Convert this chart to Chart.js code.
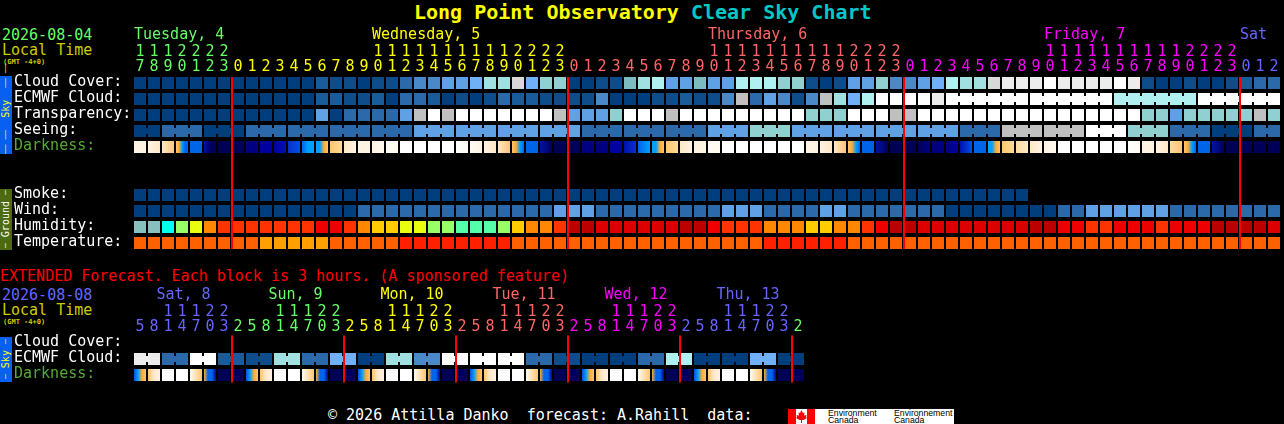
<!DOCTYPE html>
<html>
<head>
<meta charset="utf-8">
<title>Long Point Observatory Clear Sky Chart</title>
<script src="https://cdn.jsdelivr.net/npm/chart.js@4/dist/chart.umd.min.js"></script>
<style>
  html, body { margin: 0; background: #000; }
  body { position: relative; width: 1284px; height: 424px; overflow: hidden; font-family: "DejaVu Sans Mono", monospace; }
  .box { position: absolute; left: 0; width: 1284px; }
  .t { position: absolute; white-space: pre; font-size: 15px; line-height: 16px; }
  .tab { position: absolute; left: 0; width: 12px; text-align: center; white-space: pre; font-size: 10px; line-height: 12px;
         writing-mode: vertical-rl; transform: rotate(180deg); }
  .tab span { font-size: 8px; }
  canvas { display: block; }
</style>
</head>
<body>

<div class="t" style="left:414px;top:0;font-size:20px;line-height:24px;font-weight:bold;color:#ffff00">Long Point Observatory <span style="color:#00c8c8">Clear Sky Chart</span></div>

<div class="t" style="left:2px;top:27px;color:#66ff66">2026-08-04</div>
<div class="t" style="left:2px;top:42px;color:#cccc00">Local Time</div>
<div class="t" style="left:3px;top:58px;font-size:7px;line-height:9px;font-weight:bold;color:#cccc00">(GMT -4+0)</div>
<div class="tab" style="top:76px;height:78px;background:#0860f0;color:#ffff00"><span>—— ——</span>  Sky  <span>—— ——</span></div>
<div class="tab" style="top:189px;height:61px;background:#4d6a10;color:#ffffff"><span>—</span> Ground <span>—</span></div>

<div class="t" style="left:0;top:268px;color:#ff0000">EXTENDED Forecast. Each block is 3 hours. (A sponsored feature)</div>
<div class="t" style="left:2px;top:287px;color:#6666ff">2026-08-08</div>
<div class="t" style="left:2px;top:302px;color:#cccc00">Local Time</div>
<div class="t" style="left:3px;top:318px;font-size:7px;line-height:9px;font-weight:bold;color:#cccc00">(GMT -4+0)</div>
<div class="tab" style="top:337px;height:45px;background:#0860f0;color:#ffff00"><span>—</span> Sky <span>—</span></div>

<div class="t" style="left:328px;top:407px;color:#ffffff">© 2026 Attilla Danko  forecast: A.Rahill  data:</div>
<div style="position:absolute;left:788px;top:409px;width:166px;height:15px;background:#fff;overflow:hidden">
  <div style="position:absolute;left:0;top:0;width:8px;height:15px;background:#f00"></div>
  <div style="position:absolute;left:19px;top:0;width:8px;height:15px;background:#f00"></div>
  <svg style="position:absolute;left:8px;top:1px" width="11" height="13" viewBox="0 0 11 13"><path fill="#f00" d="M5.5 0 L7 3 L8.5 2.5 L8 5.5 L10.5 5 L10 7 L11 8 L7.5 10 L6 10 L6 13 L5 13 L5 10 L3.5 10 L0 8 L1 7 L.5 5 L3 5.5 L2.5 2.5 L4 3 Z"/></svg>
  <div style="position:absolute;left:40px;top:0;font:8.7px/8px 'Liberation Sans';color:#000">Environment</div>
  <div style="position:absolute;left:40px;top:7px;font:8.7px/8px 'Liberation Sans';color:#000">Canada</div>
  <div style="position:absolute;left:106px;top:0;font:8.7px/8px 'Liberation Sans';color:#000">Environnement</div>
  <div style="position:absolute;left:106px;top:7px;font:8.7px/8px 'Liberation Sans';color:#000">Canada</div>
</div>

<div class="box" style="top:0;height:252px"><canvas id="mainChart" width="1284" height="252"></canvas></div>
<div class="box" style="top:280px;height:105px"><canvas id="extChart" width="1284" height="105"></canvas></div>

<script>
// hours along the top of each panel
const mainHours = [17,18,19,20,21,22,23,
    0,1,2,3,4,5,6,7,8,9,10,11,12,13,14,15,16,17,18,19,20,21,22,23,
    0,1,2,3,4,5,6,7,8,9,10,11,12,13,14,15,16,17,18,19,20,21,22,23,
    0,1,2,3,4,5,6,7,8,9,10,11,12,13,14,15,16,17,18,19,20,21,22,23,
    0,1,2];
const extHours = [5,8,11,14,17,20,23,
    2,5,8,11,14,17,20,23,
    2,5,8,11,14,17,20,23,
    2,5,8,11,14,17,20,23,
    2,5,8,11,14,17,20,23,
    2,5,8,11,14,17,20,23,
    2];

const mainDayNames = ["Tuesday, 4", "Wednesday, 5", "Thursday, 6", "Friday, 7", "Sat"];
const mainDayNameCells = [0, 17, 41, 65, 79];
const mainDayStarts = [0, 7, 31, 55, 79];
const extDayNames = ["Sat, 8", "Sun, 9", "Mon, 10", "Tue, 11", "Wed, 12", "Thu, 13"];
const extDayNameCells = [1.6, 9.6, 17.6, 25.6, 33.6, 41.6];
const extDayStarts = [0, 7, 15, 23, 31, 39, 47];

const mainRowLabels = ["Cloud Cover:", "ECMWF Cloud:", "Transparency:", "Seeing:", "Darkness:", " ", "  ", "Smoke:", "Wind:", "Humidity:", "Temperature:"];
const extRowLabels = ["Cloud Cover:", "ECMWF Cloud:", "Darkness:"];

// sky condition class, 0 = best (dark blue) to 14 = worst (white)
const cloudCover = [0,0,0,0,0,0,0,0,0,0,0,0,0,2,1,1,0,1,1,3,4,
    4,5,5,6,9,9,12,6,8,8,0,0,1,1,7,9,10,5,5,7,5,5,10,10,10,8,8,1,0,1,
    5,5,8,4,4,5,6,10,9,9,12,13,13,13,14,13,13,13,13,14,13,1,0,0,1,0,0,1,2,3,3];
const ecmwfCloud = [0,0,0,0,0,0,0,0,0,0,0,0,0,2,2,1,1,2,0,3,3,
    2,0,1,0,1,3,2,2,1,1,1,1,4,0,0,0,1,1,2,1,1,4,11,3,5,4,1,4,11,9,
    6,10,14,14,14,14,13,14,14,14,14,14,14,14,14,14,14,14,14,10,10,10,10,10,10,14,14,14,14,14,14];
const transparency = [0,0,0,0,0,0,0,0,0,0,0,0,0,5,0,3,3,3,3,5,11,
    14,11,14,14,14,14,14,14,14,11,5,5,5,8,14,14,14,11,14,14,14,14,14,14,14,14,14,8,8,8,
    14,14,14,11,11,14,14,14,14,14,14,14,14,14,14,14,14,14,14,14,14,8,8,5,8,8,8,8,8,11,8];
const seeing = [0,0,3,3,3,0,0,0,3,3,3,3,3,3,3,3,3,3,3,3,5,
    5,5,5,5,5,5,5,5,5,5,5,3,3,3,3,3,3,3,3,3,5,5,5,8,8,8,5,5,5,5,
    5,5,5,5,5,5,5,5,3,3,3,11,11,11,11,11,11,14,14,14,8,8,8,3,3,3,0,0,0,3,3];
const smoke = [0,0,0,0,0,0,0,0,0,0,0,0,0,0,0,0,0,0,0,0,0,
    0,0,0,0,0,0,0,0,0,0,0,0,0,0,0,0,0,0,0,0,0,0,0,0,0,0,0,0,0,0,
    0,0,0,0,0,0,0,0,0,0,0,0,0];
const wind = [0,0,0,0,0,0,0,0,0,0,0,0,0,0,0,0,3,3,3,3,3,
    3,3,3,3,3,3,3,3,3,5,5,5,3,3,3,3,3,3,3,3,3,5,5,5,3,3,3,3,5,5,
    3,3,3,3,3,3,3,0,0,0,0,0,0,0,0,3,3,5,5,5,5,5,5,3,3,3,3,3,3,3,3];
// relative humidity, percent
const humidity = [30,30,35,45,50,60,65,65,65,65,65,65,65,70,70,65,60,55,55,50,50,
    45,45,40,40,40,45,55,60,60,65,80,80,75,75,75,75,75,75,80,80,70,65,65,65,60,60,60,55,55,60,
    60,65,70,80,80,75,75,75,75,75,75,75,75,80,80,70,70,65,65,70,70,70,65,70,70,70,80,80,80,80,75];
// air temperature, deg C
const temperature = [21,21,21,21,21,21,21,21,21,18,18,18,18,18,21,21,21,21,21,24,24,
    24,24,24,24,24,24,21,21,21,21,21,21,21,21,21,21,21,21,21,21,21,21,21,21,24,24,24,24,24,24,
    21,21,21,21,21,21,21,21,21,21,21,21,21,21,21,21,21,21,21,21,21,21,21,21,21,21,21,21,21,21,21];
// darkness class samples across each hour, 0 = daylight to 14 = full dark
const darkness = [[2,2],[2,3],[3,4,5],[5,6,7,8,8],[8,8],[11,13,14,14],[14,14],
    [14,14],[13,13],[12,12],[12,11],[10,9],[8,7,7],[7,7,6,5],[5,4],[3,2],[2,2],[2,1],[1,1],[0,0],[0,0],
    [0,0],[0,0],[0,1],[1,2],[2,3],[3,5],[5,6,7,8],[8,8],[11,14],[14,14],[14,14],[13,13],[13,13],[12,12],[11,10],[8,7],[7,7,6,5],[5,4],[3,2],[2,2],[1,1],
    [0,0],[0,0],[0,0],[0,0],[0,0],[0,0],[2,2],[2,3],[3,5],[5,6,7,8],[8,8],[11,14],[14,14],[14,14],[14,13],[13,13],[13,12],[11,9],[8,8],[7,7,6,5],
    [5,4],[4,3],[3,2],[2,1],[0,0],[0,0],[0,0],[0,0],[0,0],[0,1],[2,2],[2,3],[4,5],[5,6,7,8],[8,8],[11,14],[14,14],[14,14],[14,14],[14,14]];

// extended panel, one value per block of two cells
const extEcmwfBlocks = [13,3,14,2,1,9,3,6,0,9,4,14,14,14,3,1,0,0,3,10,0,0,6,0];
const extDarkness = [[9,7,6,5],[5,3,2],[0,0],[0,0],[1,5],[6,8,8,12],[14,14],[14,14],
    [9,7,6,5],[5,3,2],[0,0],[0,0],[1,5],[6,8,8,12],[14,14],[14,14],
    [9,7,6,5],[5,3,2],[0,0],[0,0],[1,5],[6,8,8,12],[14,14],[14,14],
    [9,7,6,5],[5,3,2],[0,0],[0,0],[1,5],[6,8,8,12],[14,14],[14,14],
    [9,7,6,5],[5,3,2],[0,0],[0,0],[1,5],[6,8,8,12],[14,14],[14,14],
    [9,7,6,5],[5,3,2],[0,0],[0,0],[1,5],[6,8,8,12],[14,14],[14,14]];

const midnightCells = [7, 31, 55, 79];
const extMidnightCells = [7, 15, 23, 31, 39, 47];

// colour scales
const skyColors = ["#003e7e","#0f4c8a","#1a5c9a","#2b69ab","#4a88c8","#60a0e4","#70b0f8","#7cbcc0","#90d0d0","#a0e0e0","#b0f0f0","#c0c0c0","#d8d8d8","#ececec","#ffffff"];
const darkColors = ["#ffffff","#fffaf2","#fff3e2","#ffe8c8","#ffd9a0","#ffc56f","#ffaa33","#00a0ff","#0064e8","#0050e0","#0a30c8","#0010b0","#0000a0","#000080","#000058"];
const humidityColors = {30:"#88c0c0",35:"#00ffee",40:"#55ffaa",45:"#99ff66",50:"#e8ff10",55:"#ffcc00",60:"#ff8800",65:"#ff3300",70:"#ee0000",75:"#dd0000",80:"#bb0000"};
const temperatureColors = {18:"#ffa000",21:"#ff6000",24:"#ff2000"};
const dayColors = ["#66ff66","#ffff00","#ff6666","#ff00ff","#6666ff"];
const extDayColors = ["#6666ff","#66ff66","#ffff00","#ff6666","#ff00ff","#6666ff","#66ff66"];

const CELL = 6 / 14;   // half a cell in x units (12px cell on a 14px pitch)
const FONT = '"DejaVu Sans Mono", monospace';

const sky = v => skyColors[v];

// darkness cell is a gradient across the samples
function darkGradient(samples, col, chart) {
    const xs = chart.scales.x;
    const x0 = xs.getPixelForValue(col - CELL);
    const x1 = xs.getPixelForValue(col + CELL);
    if (!isFinite(x0) || !isFinite(x1)) return darkColors[samples[0]];
    const g = chart.ctx.createLinearGradient(x0, 0, x1, 0);
    samples.forEach((s, i) => g.addColorStop(i / (samples.length - 1), darkColors[s]));
    return g;
}

function colorAt(starts, colors, i) {
    let c = colors[0];
    starts.forEach((s, k) => { if (i >= s) c = colors[k]; });
    return c;
}

function buildDatasets(count, rows, redCells) {
    const sets = [];
    // red day lines sit on top of the cells
    redCells.forEach(m => {
        sets.push({
            type: "line",
            order: -1,
            xAxisID: "x",
            yAxisID: "yRed",
            data: [{ x: m - CELL, y: 0 }, { x: m - CELL, y: 1 }],
            borderColor: "#ff0000",
            borderWidth: 2,
            pointRadius: 0
        });
    });
    for (let col = 0; col < count; col++) {
        const value = r => (r.values && r.values[col] != null ? r.values[col] : null);
        sets.push({
            indexAxis: "y",
            grouped: false,
            barThickness: 12,
            inflateAmount: 0,
            borderSkipped: false,
            data: rows.map(r => (value(r) === null ? null : [col - CELL, col + CELL])),
            backgroundColor: ctx => {
                const r = rows[ctx.dataIndex];
                if (!r || value(r) === null) return "transparent";
                return r.gradient ? darkGradient(value(r), col, ctx.chart) : r.paint(value(r));
            }
        });
        // thin connector between cells of one forecast block
        if (rows.some(r => r.joined && col < count - 1 && r.joined(col))) {
            sets.push({
                indexAxis: "y",
                grouped: false,
                barThickness: 6,
                inflateAmount: 0,
                borderSkipped: false,
                data: rows.map(r => (r.joined && r.joined(col) ? [col + CELL, col + 1 - CELL] : null)),
                backgroundColor: ctx => {
                    const r = rows[ctx.dataIndex];
                    return r && r.joined ? r.paint(value(r)) : "transparent";
                }
            });
        }
    }
    return sets;
}

function drawPanel(id, opts) {
    const hourLabel = h => (h >= 10 ? [String(h)[0], String(h)[1]] : [" ", String(h)]);
    const dayNamesPlugin = {
        id: "dayNames",
        afterDraw(chart) {
            const c = chart.ctx;
            c.save();
            c.font = "15px " + FONT;
            c.textBaseline = "middle";
            opts.dayNames.forEach((name, i) => {
                c.fillStyle = opts.nameColors[i];
                c.fillText(name, chart.scales.x.getPixelForValue(opts.nameCells[i]) - 6, opts.nameY);
            });
            c.restore();
        }
    };
    return new Chart(document.getElementById(id), {
        type: "bar",
        data: { labels: opts.rowLabels, datasets: buildDatasets(opts.hours.length, opts.rows, opts.redCells) },
        plugins: [dayNamesPlugin],
        options: {
            responsive: false,
            animation: false,
            devicePixelRatio: 1,
            layout: { padding: { left: 14, right: 1284 - 133 - opts.hours.length * 14, top: 0, bottom: opts.bottom } },
            plugins: { legend: { display: false }, tooltip: { enabled: false } },
            scales: {
                x: {
                    type: "linear",
                    position: "top",
                    offset: false,
                    min: -0.5,
                    max: opts.hours.length - 0.5,
                    grid: { display: false },
                    border: { display: false },
                    afterFit: s => { s.height = opts.headerHeight; s.paddingLeft = 0; s.paddingRight = 0; },
                    afterBuildTicks: s => { s.ticks = opts.hours.map((h, i) => ({ value: i })); },
                    ticks: {
                        autoSkip: false,
                        maxRotation: 0,
                        minRotation: 0,
                        padding: -8,
                        font: { family: FONT, size: 15, lineHeight: "15px" },
                        color: ctx => colorAt(opts.dayStarts, opts.hourColors, ctx.tick.value),
                        callback: v => hourLabel(opts.hours[v])
                    }
                },
                y: {
                    type: "category",
                    offset: true,
                    grid: { display: false },
                    border: { display: false },
                    afterFit: s => { s.width = 119; s.paddingTop = 0; s.paddingBottom = 0; },
                    ticks: {
                        crossAlign: "far",
                        padding: 0,
                        labelOffset: -1,
                        autoSkip: false,
                        font: { family: FONT, size: 15 },
                        color: ctx => (opts.rowLabels[ctx.index] === "Darkness:" ? "#55aa33" : "#ffffff")
                    }
                },
                yRed: { type: "linear", axis: "y", display: false, min: -0.011, max: 1.011 }
            }
        }
    });
}

drawPanel("mainChart", {
    hours: mainHours,
    bottom: 1,
    headerHeight: 75,
    nameY: 35,
    dayNames: mainDayNames,
    nameCells: mainDayNameCells,
    nameColors: dayColors,
    dayStarts: mainDayStarts,
    hourColors: dayColors,
    redCells: midnightCells,
    rowLabels: mainRowLabels,
    rows: [
        { values: cloudCover, paint: sky },
        { values: ecmwfCloud, paint: sky, joined: i => i >= 58 && (i + 1 - 58) % 6 !== 0 },
        { values: transparency, paint: sky },
        { values: seeing, paint: sky, joined: i => (i + 1 - 2) % 3 !== 0 },
        { values: darkness, gradient: true },
        {},
        {},
        { values: smoke, paint: sky },
        { values: wind, paint: sky },
        { values: humidity, paint: v => humidityColors[v] },
        { values: temperature, paint: v => temperatureColors[v] }
    ]
});

drawPanel("extChart", {
    hours: extHours,
    bottom: 2,
    headerHeight: 55,
    nameY: 15,
    dayNames: extDayNames,
    nameCells: extDayNameCells,
    nameColors: ["#6666ff","#66ff66","#ffff00","#ff6666","#ff00ff","#6666ff"],
    dayStarts: extDayStarts,
    hourColors: extDayColors,
    redCells: extMidnightCells,
    rowLabels: extRowLabels,
    rows: [
        {},
        { values: extEcmwfBlocks.flatMap(v => [v, v]), paint: sky, joined: i => i % 2 === 0 },
        { values: extDarkness, gradient: true }
    ]
});
</script>
</body>
</html>
